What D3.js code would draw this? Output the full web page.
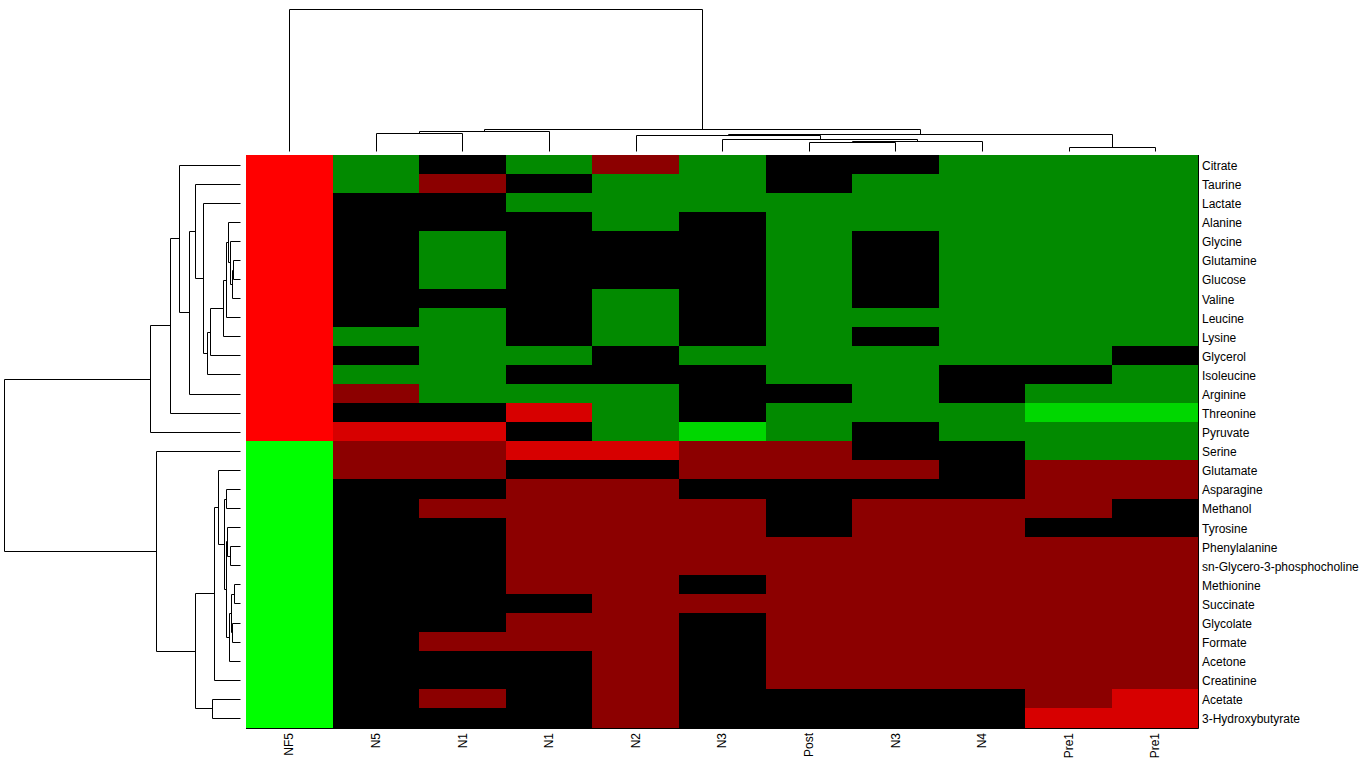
<!DOCTYPE html>
<html>
<head>
<meta charset="utf-8">
<title>heatmap</title>
<script src="https://d3js.org/d3.v7.min.js"></script>
<style>
    html, body { margin: 0; padding: 0; background: #fff; }
    svg { display: block; }
    text { font-family: "Liberation Sans", Arial, sans-serif; font-size: 12px; fill: #000; }
</style>
</head>
<body>
<div id="chart"></div>
<script>
// column labels, in the order the dendrogram puts them
var colLabels = ["NF5", "N5", "N1", "N1", "N2", "N3", "Post", "N3", "N4", "Pre1", "Pre1"];

// row labels, top to bottom
var rowLabels = [
    "Citrate", "Taurine", "Lactate", "Alanine", "Glycine", "Glutamine", "Glucose",
    "Valine", "Leucine", "Lysine", "Glycerol", "Isoleucine", "Arginine", "Threonine",
    "Pyruvate", "Serine", "Glutamate", "Asparagine", "Methanol", "Tyrosine",
    "Phenylalanine", "sn-Glycero-3-phosphocholine", "Methionine", "Succinate",
    "Glycolate", "Formate", "Acetone", "Creatinine", "Acetate", "3-Hydroxybutyrate"
];

// binned scores: -3 bright green ... 0 black ... 3 bright red
var values = [
    [3, -1, 0, -1, 1, -1, 0, 0, -1, -1, -1],
    [3, -1, 1, 0, -1, -1, 0, -1, -1, -1, -1],
    [3, 0, 0, -1, -1, -1, -1, -1, -1, -1, -1],
    [3, 0, 0, 0, -1, 0, -1, -1, -1, -1, -1],
    [3, 0, -1, 0, 0, 0, -1, 0, -1, -1, -1],
    [3, 0, -1, 0, 0, 0, -1, 0, -1, -1, -1],
    [3, 0, -1, 0, 0, 0, -1, 0, -1, -1, -1],
    [3, 0, 0, 0, -1, 0, -1, 0, -1, -1, -1],
    [3, 0, -1, 0, -1, 0, -1, -1, -1, -1, -1],
    [3, -1, -1, 0, -1, 0, -1, 0, -1, -1, -1],
    [3, 0, -1, -1, 0, -1, -1, -1, -1, -1, 0],
    [3, -1, -1, 0, 0, 0, -1, -1, 0, 0, -1],
    [3, 1, -1, -1, -1, 0, 0, -1, 0, -1, -1],
    [3, 0, 0, 2, -1, 0, -1, -1, -1, -2, -2],
    [3, 2, 2, 0, -1, -2, -1, 0, -1, -1, -1],
    [-3, 1, 1, 2, 2, 1, 1, 0, 0, -1, -1],
    [-3, 1, 1, 0, 0, 1, 1, 1, 0, 1, 1],
    [-3, 0, 0, 1, 1, 0, 0, 0, 0, 1, 1],
    [-3, 0, 1, 1, 1, 1, 0, 1, 1, 1, 0],
    [-3, 0, 0, 1, 1, 1, 0, 1, 1, 0, 0],
    [-3, 0, 0, 1, 1, 1, 1, 1, 1, 1, 1],
    [-3, 0, 0, 1, 1, 1, 1, 1, 1, 1, 1],
    [-3, 0, 0, 1, 1, 0, 1, 1, 1, 1, 1],
    [-3, 0, 0, 0, 1, 1, 1, 1, 1, 1, 1],
    [-3, 0, 0, 1, 1, 0, 1, 1, 1, 1, 1],
    [-3, 0, 1, 1, 1, 0, 1, 1, 1, 1, 1],
    [-3, 0, 0, 0, 1, 0, 1, 1, 1, 1, 1],
    [-3, 0, 0, 0, 1, 0, 1, 1, 1, 1, 1],
    [-3, 0, 1, 0, 1, 0, 0, 0, 0, 1, 2],
    [-3, 0, 0, 0, 1, 0, 0, 0, 0, 2, 2]
];

var palette = ["#00ff00", "#00d700", "#028a00", "#000000", "#8c0000", "#d70000", "#ff0000"];

// hclust style merges: negative = leaf (1-based), positive = earlier merge, then height
var colMerge = [
    [-2, -3, 1.84],
    [1, -4, 2.04],
    [-10, -11, 0.44],
    [-7, -8, 0.94],
    [4, -9, 1.0],
    [-6, 5, 1.24],
    [-5, 6, 1.57],
    [7, 3, 1.67],
    [2, 8, 2.24],
    [-1, 9, 14.24]
];

var rowMerge = [
    [-6, -7, 6.7],
    [1, -8, 8.5],
    [-5, 2, 10],
    [-4, 3, 11.7],
    [4, -9, 13.7],
    [5, -10, 17],
    [6, -11, 29.7],
    [7, -12, 33.3],
    [-3, 8, 36.7],
    [-2, 9, 44.7],
    [10, -13, 51.3],
    [-1, 11, 61.3],
    [12, -14, 69.7],
    [13, -15, 89.7],
    [-23, -24, 5.7],
    [-25, -26, 7.7],
    [15, 16, 9],
    [-21, -22, 9.7],
    [17, -27, 11],
    [-20, 18, 13],
    [-18, -19, 13.7],
    [20, 19, 14.3],
    [21, 22, 16],
    [-17, 23, 22.3],
    [24, -28, 25.7],
    [-29, -30, 27.7],
    [25, 26, 44.7],
    [-16, 27, 83.7],
    [14, 28, 237]
];

var width = 1366, height = 764;

var svg = d3.select("#chart").append("svg")
    .attr("width", width)
    .attr("height", height);

var xBand = d3.scaleBand().domain(d3.range(colLabels.length)).range([246, 1198.5]);
var yBand = d3.scaleBand().domain(d3.range(rowLabels.length)).range([155, 727.5]);
var color = d3.scaleQuantize().domain([-3.5, 3.5]).range(palette);

/*
 * cells
 */
var cells = [];
values.forEach(function(row, i) {
    row.forEach(function(v, j) {
        cells.push({ r: i, c: j, v: v });
    });
});

svg.append("g")
    .attr("shape-rendering", "crispEdges")
    .selectAll("rect")
    .data(cells)
    .enter().append("rect")
    .attr("x", function(d) { return xBand(d.c); })
    .attr("y", function(d) { return yBand(d.r); })
    .attr("width", xBand.bandwidth() + 0.5)
    .attr("height", yBand.bandwidth() + 0.5)
    .attr("fill", function(d) { return color(d.v); });

// thin frame on the right and bottom like the original image()
svg.append("path")
    .attr("d", "M" + 1198.5 + "," + 155 + "V" + 728.5 + "H" + 246)
    .attr("fill", "none")
    .attr("stroke", "#000")
    .attr("stroke-width", 1);

/*
 * dendrograms: position of a merge = middle of its two children
 */
function layout(merge, leafPos) {
    var pos = [], hgt = [];
    merge.forEach(function(m, k) {
        var p = m.slice(0, 2).map(function(id) {
            return id < 0 ? leafPos(-id - 1) : pos[id - 1];
        });
        pos[k] = (p[0] + p[1]) / 2;
        hgt[k] = m[2];
    });
    function node(id) {
        return id < 0 ? { p: leafPos(-id - 1), h: 0 } : { p: pos[id - 1], h: hgt[id - 1] };
    }
    return merge.map(function(m) {
        return { a: node(m[0]), b: node(m[1]), h: m[2] };
    });
}

function px(v) { return Math.round(v) + 0.5; }

var colH = d3.scaleLinear().domain([0, 14.24]).range([151, 8.5]);
var colNodes = layout(colMerge, function(i) { return xBand(i) + xBand.bandwidth() / 2; });

svg.append("g")
    .selectAll("path")
    .data(colNodes)
    .enter().append("path")
    .attr("d", function(d) {
        var p = d3.path();
        p.moveTo(px(d.a.p), px(colH(d.a.h)));
        p.lineTo(px(d.a.p), px(colH(d.h)));
        p.lineTo(px(d.b.p), px(colH(d.h)));
        p.lineTo(px(d.b.p), px(colH(d.b.h)));
        return p.toString();
    })
    .attr("fill", "none")
    .attr("stroke", "#000")
    .attr("stroke-width", 1);

var rowH = d3.scaleLinear().domain([0, 237]).range([240, 3.5]);
var rowNodes = layout(rowMerge, function(i) { return yBand(i) + yBand.bandwidth() / 2; });

svg.append("g")
    .selectAll("path")
    .data(rowNodes)
    .enter().append("path")
    .attr("d", function(d) {
        var p = d3.path();
        p.moveTo(px(rowH(d.a.h)), px(d.a.p));
        p.lineTo(px(rowH(d.h)), px(d.a.p));
        p.lineTo(px(rowH(d.h)), px(d.b.p));
        p.lineTo(px(rowH(d.b.h)), px(d.b.p));
        return p.toString();
    })
    .attr("fill", "none")
    .attr("stroke", "#000")
    .attr("stroke-width", 1);

/*
 * labels
 */
svg.append("g")
    .selectAll("text")
    .data(rowLabels)
    .enter().append("text")
    .attr("x", 1202)
    .attr("y", function(d, i) { return yBand(i) + yBand.bandwidth() / 2; })
    .attr("dy", "0.45em")
    .text(function(d) { return d; });

svg.append("g")
    .selectAll("text")
    .data(colLabels)
    .enter().append("text")
    .attr("transform", function(d, i) {
        return "translate(" + (xBand(i) + xBand.bandwidth() / 2) + ",733) rotate(-90)";
    })
    .attr("dy", "0.35em")
    .attr("text-anchor", "end")
    .text(function(d) { return d; });
</script>
</body>
</html>
